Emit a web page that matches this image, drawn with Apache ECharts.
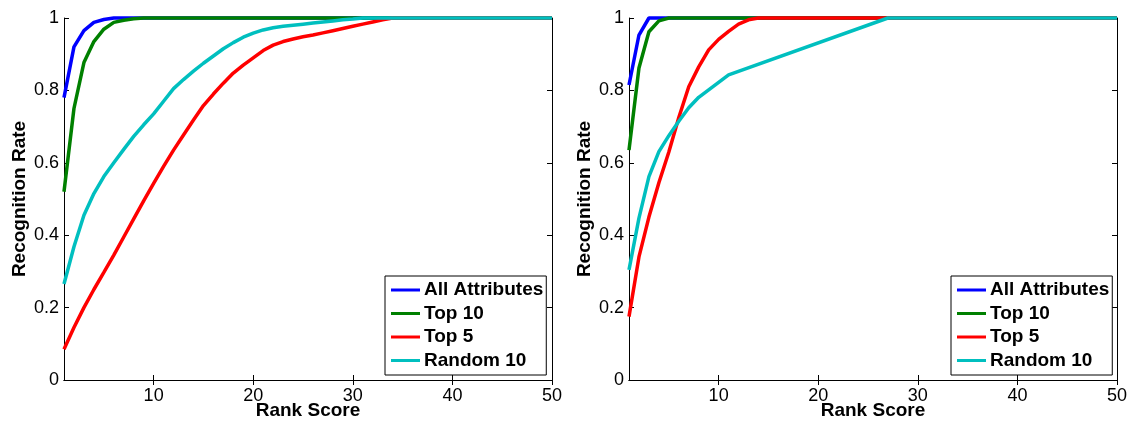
<!DOCTYPE html>
<html>
<head>
<meta charset="utf-8">
<script src="https://cdn.jsdelivr.net/npm/echarts@6/dist/echarts.min.js"></script>
<style>
  html, body { margin: 0; padding: 0; background: #fff; }
  #chart { width: 1136px; height: 423px; }
</style>
</head>
<body>
<div id="chart"></div>
<script>
// series names and colours
const names = ['All Attributes', 'Top 10', 'Top 5', 'Random 10'];
const colors = ['#0000ff', '#008000', '#ff0000', '#00bfbf'];
const xTicks = [10, 20, 30, 40, 50];

// left panel
const leftAllRanks = [1, 2, 3, 4, 5, 6, 50];
const leftAll = [0.78, 0.92, 0.965, 0.988, 0.996, 1, 1];
const leftTop10Ranks = [1, 2, 3, 4, 5, 6, 7, 8, 9, 50];
const leftTop10 = [0.52, 0.75, 0.877, 0.935, 0.969, 0.988, 0.994, 0.998, 1, 1];
const leftTop5Ranks = [1, 2, 3, 4, 5, 6, 7, 8, 9, 10, 11, 12, 13, 14, 15, 16, 17, 18, 19, 20,
  21, 22, 23, 24, 25, 26, 27, 28, 29, 30, 31, 32, 33, 34, 50];
const leftTop5 = [0.085, 0.145, 0.2, 0.25, 0.297, 0.345, 0.395, 0.445, 0.495, 0.543,
  0.59, 0.635, 0.677, 0.718, 0.758, 0.79, 0.82, 0.848, 0.87, 0.89,
  0.91, 0.925, 0.935, 0.942, 0.948, 0.953, 0.959, 0.965, 0.971, 0.977,
  0.983, 0.989, 0.995, 1, 1];
const leftRand10Ranks = [1, 2, 3, 4, 5, 6, 7, 8, 9, 10, 11, 12, 13, 14, 15, 16, 17, 18, 19, 20,
  21, 22, 23, 24, 25, 26, 27, 28, 29, 30, 31, 50];
const leftRand10 = [0.265, 0.368, 0.455, 0.515, 0.562, 0.6, 0.637, 0.673, 0.705, 0.735,
  0.77, 0.805, 0.83, 0.853, 0.875, 0.895, 0.915, 0.932, 0.947, 0.958,
  0.967, 0.973, 0.977, 0.98, 0.983, 0.986, 0.989, 0.992, 0.995, 0.997, 1, 1];

// right panel
const rightAllRanks = [1, 2, 3, 50];
const rightAll = [0.815, 0.953, 1, 1];
const rightTop10Ranks = [1, 2, 3, 4, 5, 50];
const rightTop10 = [0.635, 0.862, 0.962, 0.992, 1, 1];
const rightTop5Ranks = [1, 2, 3, 4, 5, 6, 7, 8, 9, 10, 11, 12, 13, 14, 50];
const rightTop5 = [0.175, 0.34, 0.45, 0.545, 0.63, 0.725, 0.81, 0.865, 0.912, 0.941,
  0.963, 0.983, 0.995, 1, 1];
const rightRand10Ranks = [1, 2, 3, 4, 5, 6, 7, 8, 11, 27, 50];
const rightRand10 = [0.304, 0.447, 0.562, 0.631, 0.675, 0.715, 0.752, 0.781, 0.843, 1, 1];

const pairs = (xs, ys) => xs.map((x, i) => [x, ys[i]]);

const tickFont = { fontFamily: 'Liberation Sans, Arial', fontSize: 18, color: '#000' };
const nameFont = { fontFamily: 'Liberation Sans, Arial', fontSize: 19, fontWeight: 'bold', color: '#000' };
const axisLine = { show: true, lineStyle: { color: '#000', width: 1 } };

function xAxes(gridIndex) {
  return [
    {
      type: 'value', gridIndex, position: 'bottom', min: 1, max: 50,
      name: 'Rank Score', nameLocation: 'middle', nameGap: 21, nameMoveOverlap: false,
      nameTextStyle: nameFont,
      axisLine, splitLine: { show: false },
      axisTick: { inside: true, length: 5, customValues: xTicks, lineStyle: { color: '#000' } },
      axisLabel: Object.assign({ margin: 7, customValues: xTicks }, tickFont)
    },
    {
      type: 'value', gridIndex, position: 'top', min: 1, max: 50,
      axisLine, splitLine: { show: false },
      axisTick: { inside: true, length: 5, customValues: xTicks, lineStyle: { color: '#000' } },
      axisLabel: { show: false, customValues: xTicks }
    }
  ];
}

function yAxes(gridIndex) {
  return [
    {
      type: 'value', gridIndex, position: 'left', min: 0, max: 1, interval: 0.2,
      name: 'Recognition Rate', nameLocation: 'middle', nameGap: 35, nameMoveOverlap: false,
      nameTextStyle: nameFont,
      axisLine, splitLine: { show: false },
      axisTick: { inside: true, length: 5, lineStyle: { color: '#000' } },
      axisLabel: Object.assign({ margin: 5 }, tickFont)
    },
    {
      type: 'value', gridIndex, position: 'right', min: 0, max: 1, interval: 0.2,
      axisLine, splitLine: { show: false },
      axisTick: { inside: true, length: 5, lineStyle: { color: '#000' } },
      axisLabel: { show: false }
    }
  ];
}

function line(name, idx, axisIndex, data) {
  return {
    type: 'line', name, xAxisIndex: axisIndex, yAxisIndex: axisIndex,
    data, showSymbol: false, symbol: 'none', clip: false,
    color: colors[idx],
    lineStyle: { color: colors[idx], width: 3.5 },
    z: 3 + idx
  };
}

function legend(left) {
  return {
    data: names, orient: 'vertical', left, top: 276,
    icon: 'rect', itemWidth: 29, itemHeight: 3, itemGap: 3.5,
    padding: [4, 3, 4.5, 6],
    borderColor: '#000', borderWidth: 1, backgroundColor: '#fff',
    selectedMode: false,
    textStyle: Object.assign({ lineHeight: 20, padding: [0, 0, 0, -1] }, nameFont)
  };
}

const chart = echarts.init(document.getElementById('chart'), null, { renderer: 'canvas' });
chart.setOption({
  animation: false,
  backgroundColor: '#fff',
  grid: [
    { left: 64, top: 18, width: 488, height: 362, outerBoundsMode: 'none', containLabel: false },
    { left: 629, top: 18, width: 488, height: 362, outerBoundsMode: 'none', containLabel: false }
  ],
  xAxis: xAxes(0).concat(xAxes(1)),
  yAxis: yAxes(0).concat(yAxes(1)),
  legend: [legend(385), legend(951)],
  series: [
    line(names[0], 0, 0, pairs(leftAllRanks, leftAll)),
    line(names[1], 1, 0, pairs(leftTop10Ranks, leftTop10)),
    line(names[2], 2, 0, pairs(leftTop5Ranks, leftTop5)),
    line(names[3], 3, 0, pairs(leftRand10Ranks, leftRand10)),
    line(names[0], 0, 2, pairs(rightAllRanks, rightAll)),
    line(names[1], 1, 2, pairs(rightTop10Ranks, rightTop10)),
    line(names[2], 2, 2, pairs(rightTop5Ranks, rightTop5)),
    line(names[3], 3, 2, pairs(rightRand10Ranks, rightRand10))
  ]
});
</script>
</body>
</html>
